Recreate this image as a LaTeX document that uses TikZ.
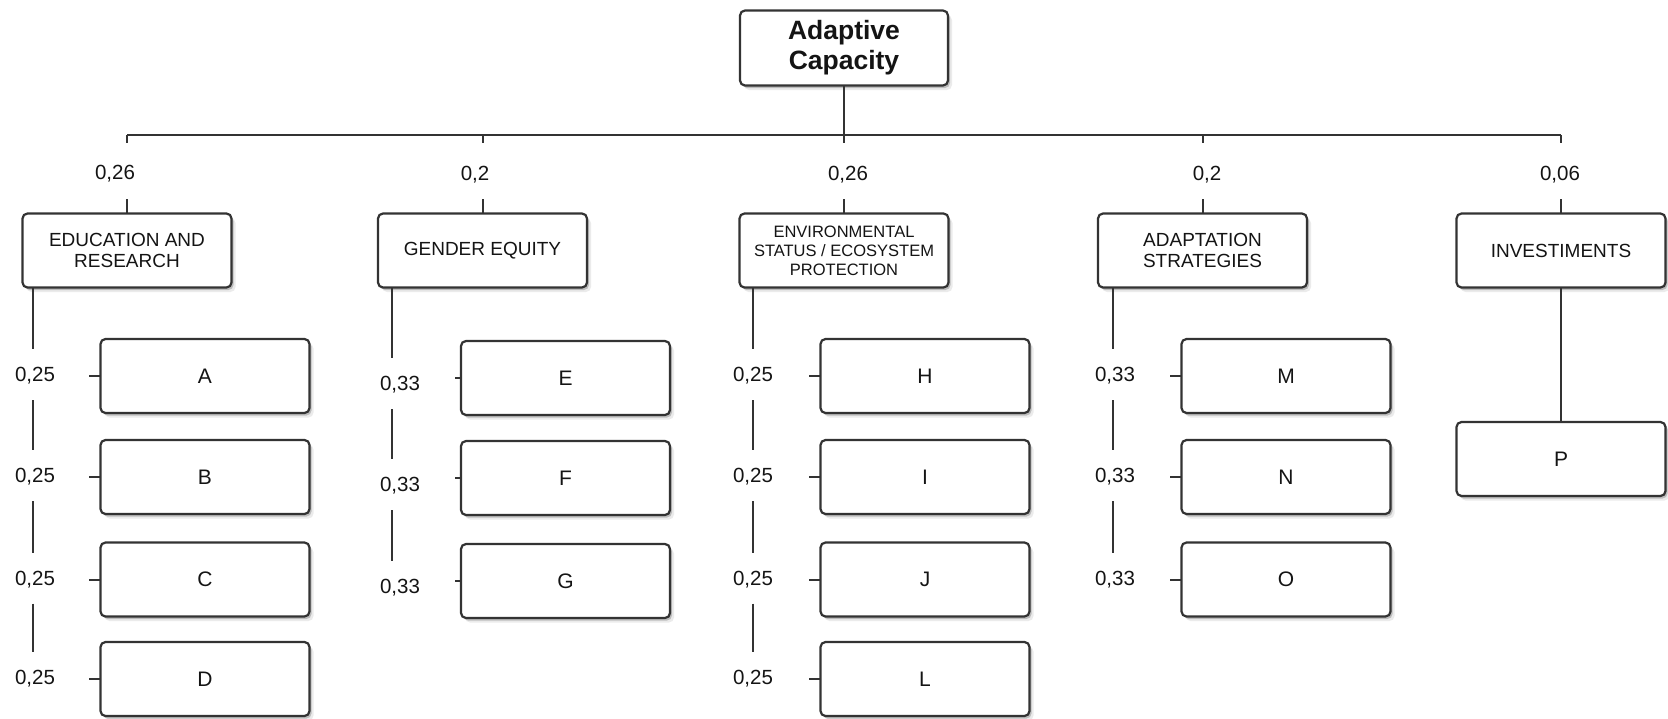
\documentclass[tikz,border=0pt]{standalone}
\usepackage{fontspec}
\setmainfont{Liberation Sans}
\usetikzlibrary{shadows}
\definecolor{ln}{HTML}{333333}
\definecolor{tx}{HTML}{141414}
\begin{document}
\begin{tikzpicture}[x=1pt,y=-1pt,
  conn/.style={draw=ln,line width=2pt},
  boxbase/.style={draw=ln,line width=2.2pt,rounded corners=5pt,fill=white,inner sep=0pt,outer sep=0pt,align=center,text=tx,
    drop shadow={shadow xshift=4pt,shadow yshift=-4.5pt,fill=black,opacity=0.08},
    drop shadow={shadow xshift=2pt,shadow yshift=-2.5pt,fill=black,opacity=0.2}},
  topbox/.style={boxbase,minimum width=208pt,minimum height=75pt,font=\bfseries\fontsize{26.5}{30}\selectfont},
  catbox/.style={boxbase,minimum width=209pt,minimum height=74pt,font=\fontsize{19}{21.5}\selectfont},
  envbox/.style={catbox,font=\fontsize{16.5}{19}\selectfont},
  leafbox/.style={boxbase,minimum width=209pt,minimum height=74pt,font=\fontsize{21}{24}\selectfont},
  wlabel/.style={inner sep=0pt,text=tx,font=\fontsize{20.5}{24}\selectfont},
]
\useasboundingbox (0,0) rectangle (1668,718);

% top
\node[topbox] (top) at (844,48) {Adaptive\\Capacity};

% categories
\node[catbox] (edu) at (127,250.5) {EDUCATION AND\\RESEARCH};
\node[catbox] (gen) at (482.5,250.5) {GENDER EQUITY};
\node[envbox] (env) at (844,250.5) {ENVIRONMENTAL\\STATUS / ECOSYSTEM\\PROTECTION};
\node[catbox] (ada) at (1202.5,250.5) {ADAPTATION\\STRATEGIES};
\node[catbox] (inv) at (1561,250.5) {INVESTIMENTS};

% bar
\coordinate (barY) at (0,135);
\draw[conn] (top.south) -- (top.south |- barY);
\draw[conn] (edu.north |- barY) -- (inv.north |- barY);
\foreach \n in {edu,gen,env,ada,inv}{
  \draw[conn] (\n.north |- barY) -- ++(0,8);
  \draw[conn] (\n.north) -- ++(0,-14.5);
}

% category weights
\node[wlabel] (wedu) at (115,174) {0,26};
\node[wlabel] (wgen) at (475,175) {0,2};
\node[wlabel] (wenv) at (848,175) {0,26};
\node[wlabel] (wada) at (1207,175) {0,2};
\node[wlabel] (winv) at (1560,175) {0,06};

% EDUCATION leaves
\node[leafbox] (A) at (205,376) {A};
\node[leafbox] (B) at (205,477) {B};
\node[leafbox] (C) at (205,579.5) {C};
\node[leafbox] (D) at (205,679) {D};
\node[wlabel] (eA) at (35,376) {0,25};
\node[wlabel] (eB) at (35,477) {0,25};
\node[wlabel] (eC) at (35,579.5) {0,25};
\node[wlabel] (eD) at (35,679) {0,25};
\foreach \n in {A,B,C,D}{ \draw[conn] (\n.west) -- ++(-12,0); }
\draw[conn] ([xshift=10.5pt]edu.south west) -- ([xshift=-2pt,yshift=27pt]eA.center);
\draw[conn] ([xshift=-2pt,yshift=-24pt]eA.center) -- ([xshift=-2pt,yshift=27pt]eB.center);
\draw[conn] ([xshift=-2pt,yshift=-24pt]eB.center) -- ([xshift=-2pt,yshift=27pt]eC.center);
\draw[conn] ([xshift=-2pt,yshift=-24pt]eC.center) -- ([xshift=-2pt,yshift=27pt]eD.center);

% GENDER leaves
\node[leafbox] (E) at (565.5,378) {E};
\node[leafbox] (F) at (565.5,478) {F};
\node[leafbox] (G) at (565.5,581) {G};
\node[wlabel] (gE) at (400,385) {0,33};
\node[wlabel] (gF) at (400,486) {0,33};
\node[wlabel] (gG) at (400,588) {0,33};
\foreach \n in {E,F,G}{ \draw[conn] (\n.west) -- ++(-6,0); }
\draw[conn] ([xshift=14pt]gen.south west) -- ([xshift=-8pt,yshift=27pt]gE.center);
\draw[conn] ([xshift=-8pt,yshift=-24pt]gE.center) -- ([xshift=-8pt,yshift=27pt]gF.center);
\draw[conn] ([xshift=-8pt,yshift=-24pt]gF.center) -- ([xshift=-8pt,yshift=27pt]gG.center);

% ENVIRONMENT leaves
\node[leafbox] (H) at (925,376) {H};
\node[leafbox] (I) at (925,477) {I};
\node[leafbox] (J) at (925,579.5) {J};
\node[leafbox] (L) at (925,679) {L};
\node[wlabel] (vH) at (753,376) {0,25};
\node[wlabel] (vI) at (753,477) {0,25};
\node[wlabel] (vJ) at (753,579.5) {0,25};
\node[wlabel] (vL) at (753,679) {0,25};
\foreach \n in {H,I,J,L}{ \draw[conn] (\n.west) -- ++(-12,0); }
\draw[conn] ([xshift=13.5pt]env.south west) -- ([yshift=27pt]vH.center);
\draw[conn] ([yshift=-24pt]vH.center) -- ([yshift=27pt]vI.center);
\draw[conn] ([yshift=-24pt]vI.center) -- ([yshift=27pt]vJ.center);
\draw[conn] ([yshift=-24pt]vJ.center) -- ([yshift=27pt]vL.center);

% ADAPTATION leaves
\node[leafbox] (M) at (1286,376) {M};
\node[leafbox] (N) at (1286,477) {N};
\node[leafbox] (O) at (1286,579.5) {O};
\node[wlabel] (aM) at (1115,376) {0,33};
\node[wlabel] (aN) at (1115,477) {0,33};
\node[wlabel] (aO) at (1115,579.5) {0,33};
\foreach \n in {M,N,O}{ \draw[conn] (\n.west) -- ++(-12,0); }
\draw[conn] ([xshift=15pt]ada.south west) -- ([xshift=-2pt,yshift=27pt]aM.center);
\draw[conn] ([xshift=-2pt,yshift=-24pt]aM.center) -- ([xshift=-2pt,yshift=27pt]aN.center);
\draw[conn] ([xshift=-2pt,yshift=-24pt]aN.center) -- ([xshift=-2pt,yshift=27pt]aO.center);

% INVESTIMENTS leaf
\node[leafbox] (P) at (1561,459) {P};
\draw[conn] (inv.south) -- (P.north);
\end{tikzpicture}
\end{document}
